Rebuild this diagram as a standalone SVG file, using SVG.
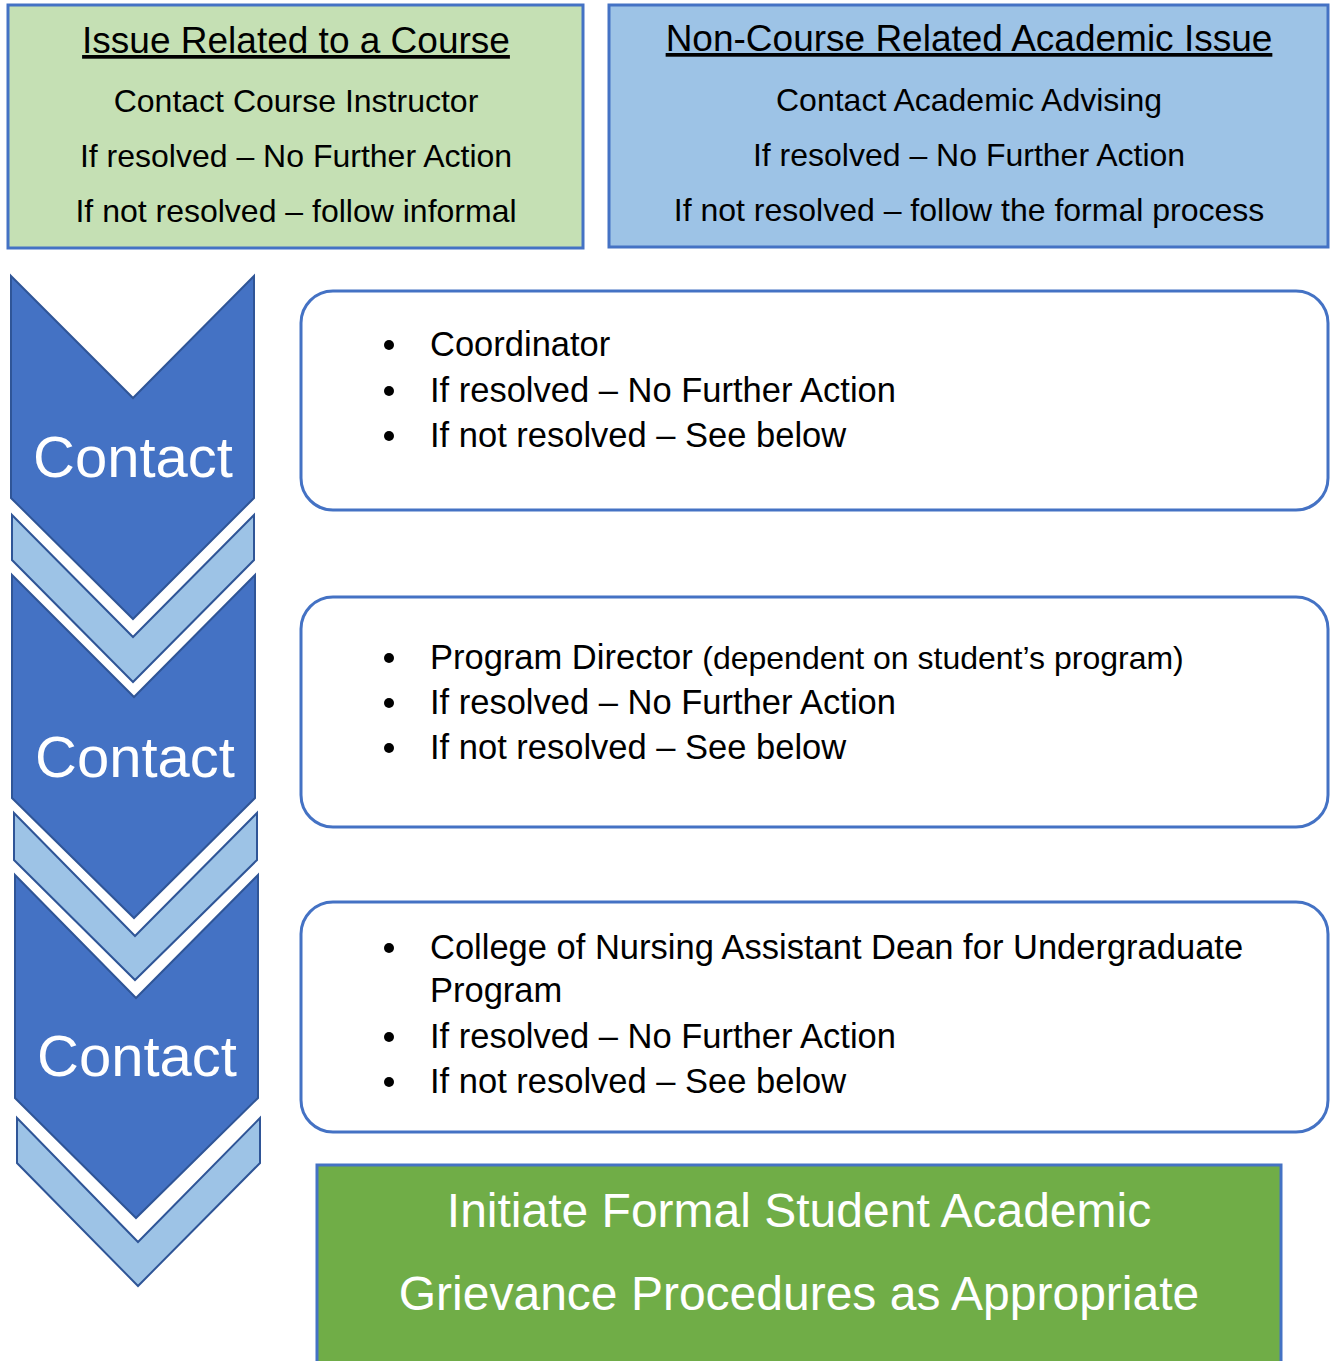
<svg xmlns="http://www.w3.org/2000/svg" width="1330" height="1361" viewBox="0 0 1330 1361">
<style>
text{font-family:"Liberation Sans",Arial,sans-serif}
.hdr{font-size:37px;fill:#000;text-anchor:middle;text-decoration:underline}
.body{font-size:32px;fill:#000;text-anchor:middle}
.blt{font-size:34.5px;fill:#000}
.small{font-size:32px}
.dark{fill:#4472C4;stroke:#2F5597;stroke-width:2}
.light{fill:#9DC3E6;stroke:#2F5597;stroke-width:2}
.ct{font-size:58px;fill:#fff;text-anchor:middle}
.rbox{fill:#fff;stroke:#4472C4;stroke-width:3}
.fin{font-size:48px;fill:#fff;text-anchor:middle}
</style>
<rect width="1330" height="1361" fill="#fff"/>
<g id="course">
<rect x="8" y="5" width="575" height="243" fill="#C5E0B4" stroke="#4472C4" stroke-width="3"/>
<text class="hdr" x="296" y="53">Issue Related to a Course</text>
<text class="body" x="296" y="112">Contact Course Instructor</text>
<text class="body" x="296" y="167">If resolved – No Further Action</text>
<text class="body" x="296" y="222">If not resolved – follow informal</text>
</g>
<g id="noncourse">
<rect x="609" y="5" width="719" height="242" fill="#9DC3E6" stroke="#4472C4" stroke-width="3"/>
<text class="hdr" x="969" y="51">Non-Course Related Academic Issue</text>
<text class="body" x="969" y="111">Contact Academic Advising</text>
<text class="body" x="969" y="166">If resolved – No Further Action</text>
<text class="body" x="969" y="221">If not resolved – follow the formal process</text>
</g>
<g id="chevron1">
<path class="dark" d="M11,276 L133,398 L254,276 L254,498 L133,619 L11,498 Z"/>
<path class="light" d="M12,515 L133,637 L254,515 L254,560 L133,682 L12,560 Z"/>
<text class="ct" x="133" y="477">Contact</text>
</g>
<g id="chevron2">
<path class="dark" d="M12,575 L134,697 L255,575 L255,798 L134,918 L12,798 Z"/>
<path class="light" d="M14,813 L135,936 L257,813 L257,860 L135,980 L14,860 Z"/>
<text class="ct" x="135" y="777">Contact</text>
</g>
<g id="chevron3">
<path class="dark" d="M15,875 L136,998 L258,875 L258,1098 L136,1218 L15,1098 Z"/>
<path class="light" d="M17,1118 L138,1242 L260,1118 L260,1163 L138,1286 L17,1163 Z"/>
<text class="ct" x="137" y="1076">Contact</text>
</g>
<g id="step1">
<rect class="rbox" x="301" y="291" width="1027" height="219" rx="32"/>
<circle cx="389" cy="345" r="5"/><circle cx="389" cy="391" r="5"/><circle cx="389" cy="436" r="5"/>
<text class="blt" x="430" y="356">Coordinator</text>
<text class="blt" x="430" y="402">If resolved – No Further Action</text>
<text class="blt" x="430" y="447">If not resolved – See below</text>
</g>
<g id="step2">
<rect class="rbox" x="301" y="597" width="1027" height="230" rx="32"/>
<circle cx="389" cy="658" r="5"/><circle cx="389" cy="703" r="5"/><circle cx="389" cy="748" r="5"/>
<text class="blt" x="430" y="669">Program Director <tspan class="small">(dependent on student’s program)</tspan></text>
<text class="blt" x="430" y="714">If resolved – No Further Action</text>
<text class="blt" x="430" y="759">If not resolved – See below</text>
</g>
<g id="step3">
<rect class="rbox" x="301" y="902" width="1027" height="230" rx="32"/>
<circle cx="389" cy="948" r="5"/><circle cx="389" cy="1037" r="5"/><circle cx="389" cy="1082" r="5"/>
<text class="blt" x="430" y="959">College of Nursing Assistant Dean for Undergraduate</text>
<text class="blt" x="430" y="1002">Program</text>
<text class="blt" x="430" y="1048">If resolved – No Further Action</text>
<text class="blt" x="430" y="1093">If not resolved – See below</text>
</g>
<g id="formal">
<rect x="317" y="1165" width="964" height="210" fill="#70AD47" stroke="#4472C4" stroke-width="3"/>
<text class="fin" x="799" y="1227">Initiate Formal Student Academic</text>
<text class="fin" x="799" y="1310">Grievance Procedures as Appropriate</text>
</g>
<g id="connectors"></g>
</svg>
